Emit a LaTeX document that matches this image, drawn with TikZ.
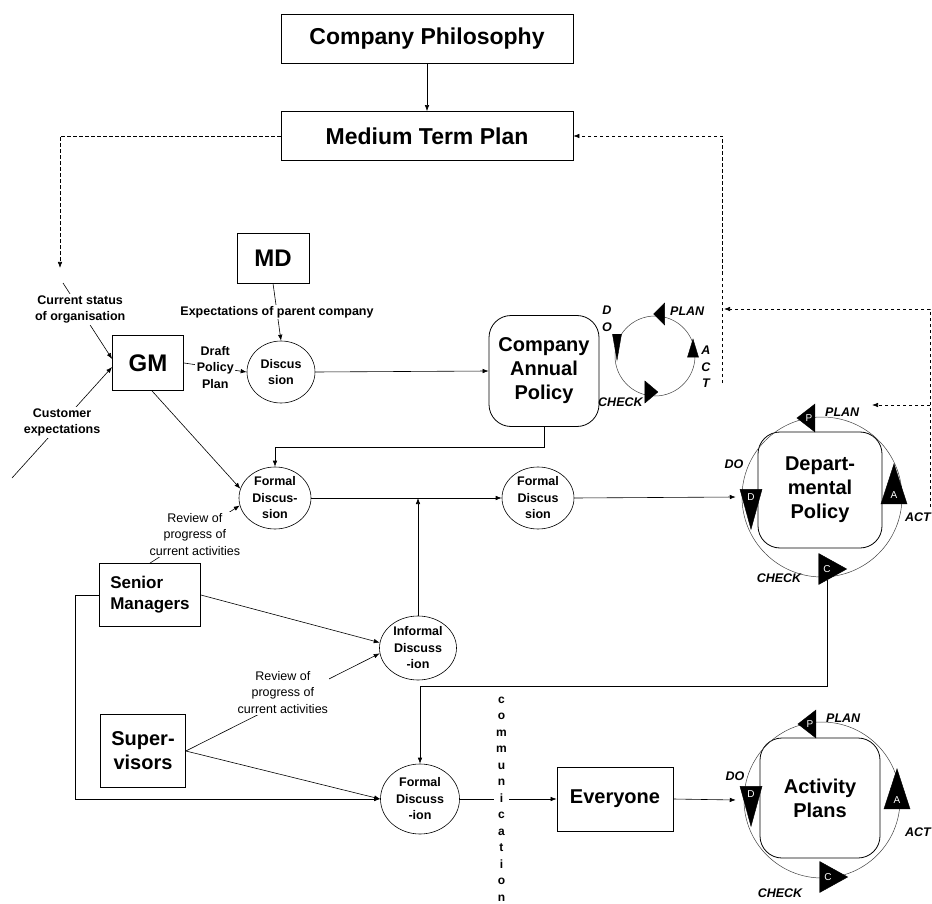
\documentclass[tikz,border=0pt]{standalone}
\usepackage{fontspec}
\setmainfont{Liberation Sans}
\usetikzlibrary{shapes}
\usetikzlibrary{positioning}
\usetikzlibrary{arrows.meta}
\tikzset{
    boxtop/.style = {rectangle, draw=black, line width=0.8pt, minimum width=292pt, minimum height=49pt, font=\fontsize{23}{27}\selectfont\bfseries},
    boxbig/.style = {rectangle, draw=black, line width=0.8pt, align=center, font=\fontsize{24}{28}\selectfont\bfseries},
    boxmid/.style = {rectangle, draw=black, line width=0.8pt, align=center, font=\fontsize{20}{24}\selectfont\bfseries},
    boxround/.style = {rectangle, rounded corners=22pt, draw=black, line width=0.8pt, align=center, font=\fontsize{20}{24}\selectfont\bfseries},
    talk/.style = {ellipse, draw=black, line width=0.6pt, minimum width=72pt, minimum height=62pt, inner sep=0pt, align=center, font=\fontsize{12.5}{16.5}\selectfont\bfseries},
    pdcaring/.style = {circle, draw=black!75, line width=0.5pt, inner sep=0pt},
    tribig/.style = {isosceles triangle, isosceles triangle stretches, fill=black, draw=black, inner sep=0pt, text=white, font=\fontsize{10}{10}\selectfont},
    trismall/.style = {isosceles triangle, isosceles triangle stretches, fill=black, draw=black, inner sep=0pt, minimum width=22pt, minimum height=11pt},
    pdcalbl/.style = {inner sep=0pt, align=center, font=\fontsize{12.5}{16.5}\selectfont\bfseries\itshape},
    lbl/.style = {fill=white, inner sep=1.5pt, align=center, font=\fontsize{12.5}{16.5}\selectfont\bfseries},
    lblthin/.style = {fill=white, inner sep=1.5pt, align=center, font=\fontsize{12.5}{16.5}\selectfont},
    edgen/.style = {-{Latex[length=6pt,width=4.5pt]}, line width=0.6pt, black},
    edged/.style = {-{Latex[length=6pt,width=4.5pt]}, line width=0.6pt, black, dash pattern=on 3.5pt off 2.5pt},
}

\begin{document}
\begin{tikzpicture}[x=1pt,y=-1pt]
\useasboundingbox (0,0) rectangle (932,904);
\node[boxtop] at (427,39) (phil) {Company Philosophy};
\node[boxtop] at (427,136) (mtp) {Medium Term Plan};
\node[boxbig, minimum width=72pt, minimum height=50pt] at (273,258) (md) {MD};
\node[boxbig, minimum width=71pt, minimum height=55pt] at (148,363) (gm) {GM};
\node[talk, minimum width=68pt] at (281,372) (disc) {Discus\\sion};
\node[boxround, minimum width=110pt, minimum height=111pt] at (544,371) (cap) {Company\\Annual\\Policy};
\node[talk] at (275,498) (fd1) {Formal\\Discus-\\sion};
\node[talk] at (538,498) (fd2) {Formal\\Discus\\sion};
\node[boxround, minimum width=124pt, minimum height=116pt] at (820,490) (dp) {Depart-\\mental\\Policy};
\node[boxmid, align=left, minimum width=101pt, minimum height=63pt, font=\fontsize{17}{21}\selectfont\bfseries] at (150,595) (sm) {Senior\\Managers};
\node[talk, minimum width=77pt, minimum height=64pt] at (418,648) (inf) {Informal\\Discuss\\-ion};
\node[boxmid, minimum width=85pt, minimum height=73pt] at (143,751) (sup) {Super-\\visors};
\node[talk, minimum width=79pt, minimum height=70pt] at (420,799) (fd3) {Formal\\Discuss\\-ion};
\node[boxmid, minimum width=116pt, minimum height=64pt] at (615,799) (all) {Everyone};
\node[boxround, minimum width=120pt, minimum height=120pt] at (820,798) (ap) {Activity\\Plans};
%
\node[pdcaring, minimum size=80pt] at (655,356) (ring1) {};
\node[pdcaring, minimum size=160pt] at (822,497) (ring2) {};
\node[pdcaring, minimum size=156pt] at (822,800) (ring3) {};
%
\node[pdcalbl, anchor=west] at (670,311) (r1plan) {PLAN};
\node[pdcalbl] at (607,319) (r1do) {D\\O};
\node[pdcalbl] at (706,367) (r1act) {A\\C\\T};
\node[pdcalbl, anchor=west] at (598,402) (r1check) {CHECK};
\node[trismall, shape border rotate=180] at (660,314) (r1p) {};
\node[trismall, shape border rotate=270, minimum width=9pt, minimum height=26pt] at (617,338) (r1d) {};
\node[trismall, shape border rotate=0, minimum height=13pt] at (650,392) (r1c) {};
\node[trismall, shape border rotate=90, minimum width=11pt, minimum height=18pt] at (693,353) (r1a) {};
%
\node[pdcalbl, anchor=west] at (825,412) (r2plan) {PLAN};
\node[pdcalbl] at (734,464) (r2do) {DO};
\node[pdcalbl] at (918,517) (r2act) {ACT};
\node[pdcalbl] at (779,578) (r2check) {CHECK};
\node[tribig, shape border rotate=180, minimum width=28pt, minimum height=18pt] at (809,418) (r2p) {P};
\node[tribig, shape border rotate=270, minimum width=22pt, minimum height=40pt] at (751,497) (r2d) {D};
\node[tribig, shape border rotate=0, minimum width=31pt, minimum height=28pt] at (827,569) (r2c) {C};
\node[tribig, shape border rotate=90, minimum width=26pt, minimum height=40pt] at (894,495) (r2a) {A};
%
\node[pdcalbl, anchor=west] at (826,718) (r3plan) {PLAN};
\node[pdcalbl] at (735,776) (r3do) {DO};
\node[pdcalbl] at (918,832) (r3act) {ACT};
\node[pdcalbl] at (780,893) (r3check) {CHECK};
\node[tribig, shape border rotate=180, minimum width=28pt, minimum height=18pt] at (810,724) (r3p) {P};
\node[tribig, shape border rotate=270, minimum width=22pt, minimum height=40pt] at (751,794) (r3d) {D};
\node[tribig, shape border rotate=0, minimum width=31pt, minimum height=28pt] at (828,877) (r3c) {C};
\node[tribig, shape border rotate=90, minimum width=26pt, minimum height=40pt] at (897,800) (r3a) {A};
%
\coordinate (statusin) at (63,283);
\coordinate (custin) at (12,478);
\coordinate (mtpout) at (60,268);
\coordinate (capturn) at (275,447);
\coordinate (smturn) at (75,595);
\coordinate (dpturn) at (420,686);
\coordinate (cpback) at (722,383);
\coordinate (dpback) at (930,507);
\coordinate (cpin) at (724,309);
\coordinate (dpbranch) at (930,405);
\coordinate (dpin) at (872,405);
%
\draw[edgen] (phil) -- (mtp);
\draw[edged] (mtp.west) -| (mtpout);
\draw[edgen] (statusin) -- node[lbl, pos=0.35] {Current status\\of organisation} ([yshift=4pt]gm.west);
\draw[edgen] (custin) -- node[lbl] {Customer\\expectations} ([yshift=-4pt]gm.west);
\draw[edgen] (gm.east) -- node[lbl] {Draft\\Policy\\Plan} (disc.west);
\draw[edgen] (md.south) -- node[lbl] {Expectations of parent company} (disc.north);
\draw[edgen] (disc.east) -- (cap.west);
\draw[edgen] (cap.south) |- (capturn) -- (fd1.north);
\draw[edgen] ([xshift=4pt]gm.south) -- (fd1.165);
\draw[edgen] (sm.north) -- node[lblthin] {Review of\\progress of\\current activities} (fd1.192);
\draw[edgen] (fd1.east) -- (fd2.west);
\draw[edgen] (inf.north) -- (inf.north |- fd1.east);
\draw[edgen] (fd2.east) -- ([xshift=-6pt]ring2.west);
\draw[edgen] (sm.east) -- (inf.172);
\draw[edgen] (sup.east) -- node[lblthin, yshift=10pt] {Review of\\progress of\\current activities} (inf.188);
\draw[edgen] (sup.east) -- (fd3.west);
\draw[edgen] (sm.west) -- (smturn) |- (fd3.west);
\draw[edgen] (r2c.south) |- (dpturn) -- (fd3.north);
\draw[edgen] (fd3.east) -- node[pos=0.43, fill=white, inner sep=2pt, align=center, font=\fontsize{12}{16.5}\selectfont\bfseries] {c\\o\\m\\m\\u\\n\\i\\c\\a\\t\\i\\o\\n} (all.west);
\draw[edgen] (all.east) -- ([xshift=-8pt]ring3.west);
\draw[edged] (cpback) |- (mtp.east);
\draw[edged] (dpback) |- (cpin);
\draw[edged] (dpbranch) -- (dpin);

\end{tikzpicture}
\end{document}
